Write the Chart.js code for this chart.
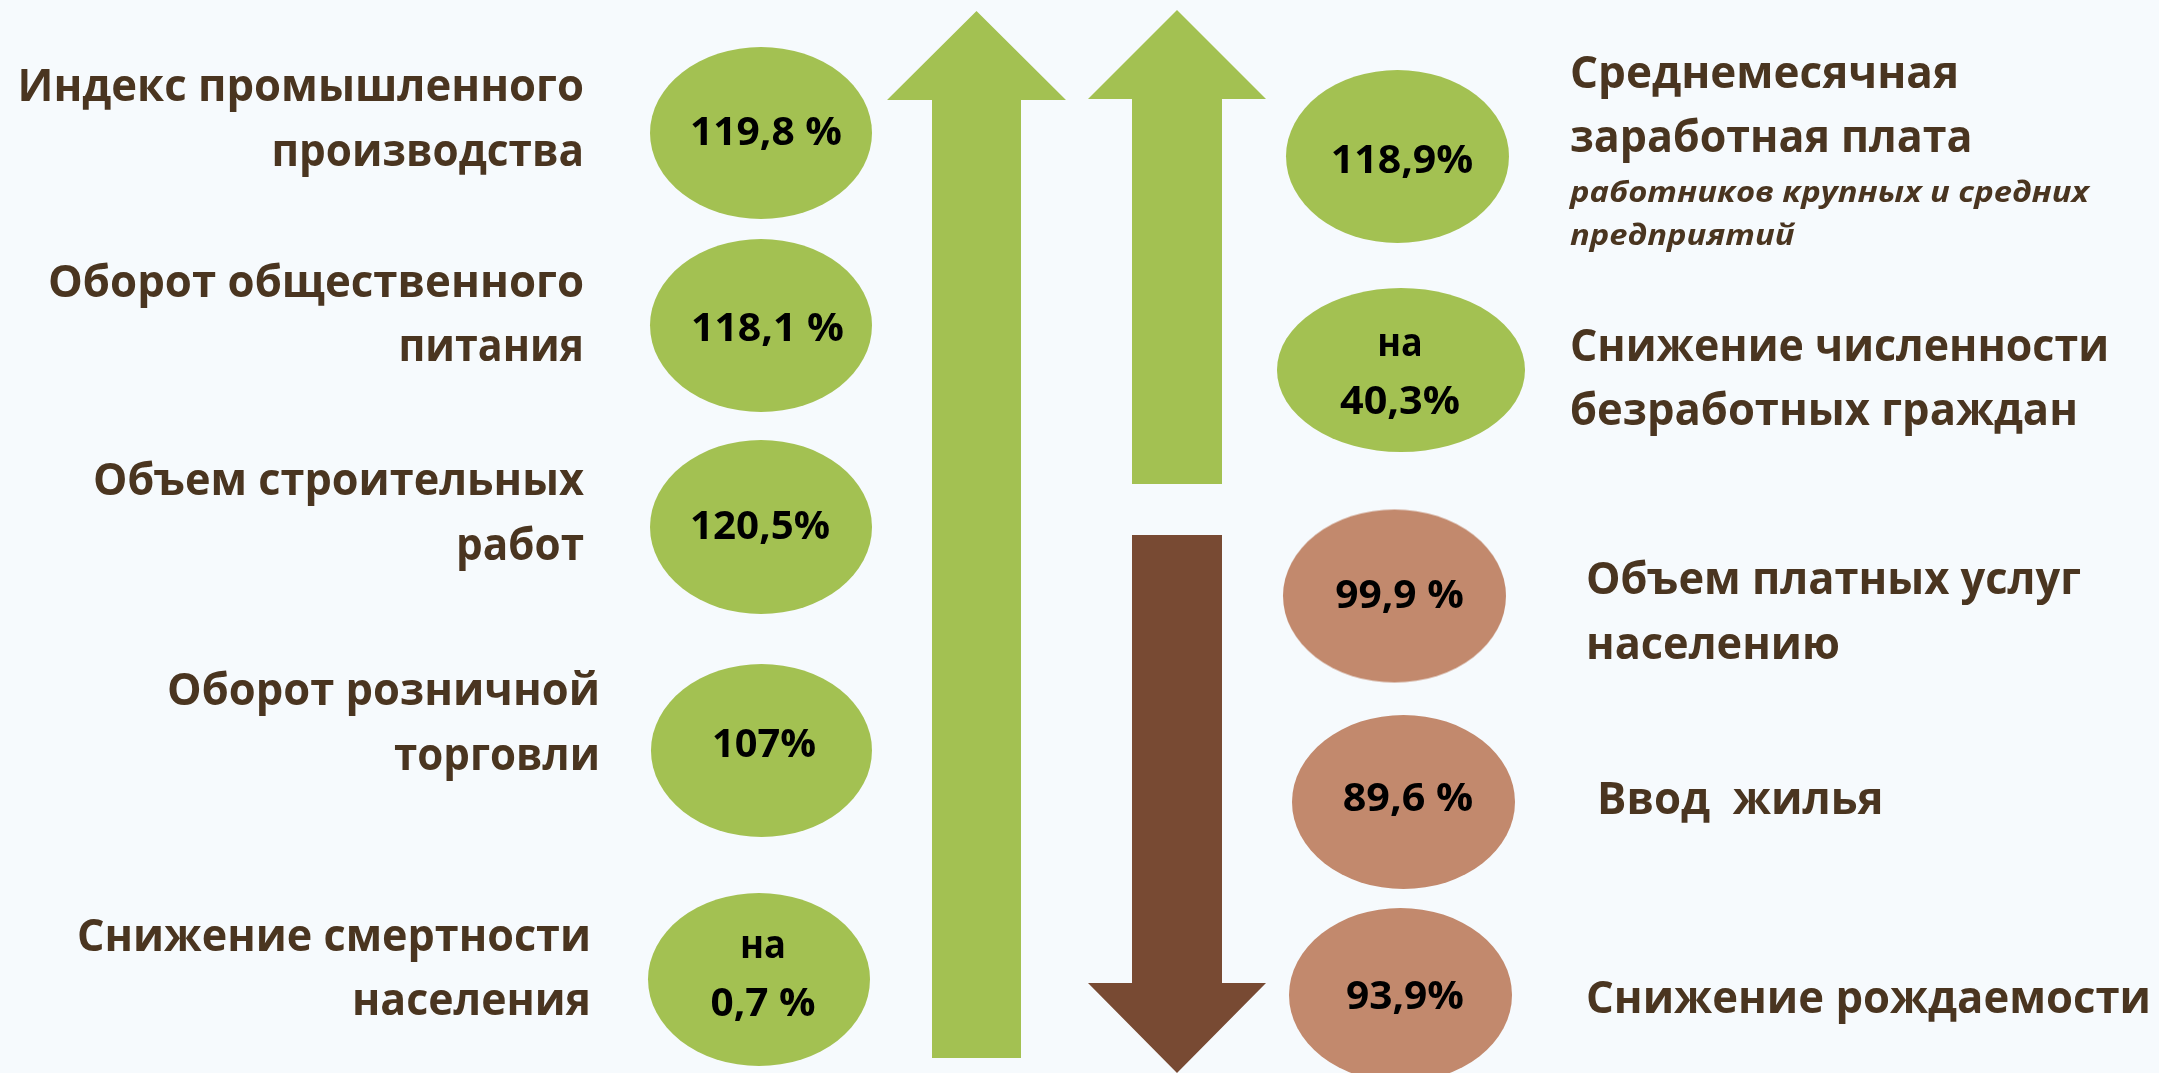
<!DOCTYPE html>
<html>
<head>
<meta charset="utf-8">
<script src="https://cdn.jsdelivr.net/npm/chart.js@4/dist/chart.umd.min.js"></script>
<style>
  html, body { margin: 0; padding: 0; background: #F6FAFD; overflow: hidden; }
  #wrap { width: 2159px; height: 1073px; }
</style>
</head>
<body>
<div id="wrap"><canvas id="c" width="2159" height="1073"></canvas></div>
<script>
// ---------------- DATA ----------------
const leftLabels = [
  ["Индекс промышленного", "производства"],
  ["Оборот общественного", "питания"],
  ["Объем строительных", "работ"],
  ["Оборот розничной", "торговли"],
  ["Снижение смертности", "населения"]
];
const leftValues = [119.8, 118.1, 120.5, 107, 0.7];
const leftPrefix = ["", "", "", "", "на"];
const leftSuffix = [" %", " %", "%", "%", " %"];

const rightLabels = [
  ["Среднемесячная", "заработная плата"],
  ["Снижение численности", "безработных граждан"],
  ["Объем платных услуг", "населению"],
  ["Ввод  жилья"],
  ["Снижение рождаемости"]
];
const rightNotes = [["работников крупных и средних", "предприятий"], [], [], [], []];
const rightValues = [118.9, 40.3, 99.9, 89.6, 93.9];
const rightPrefix = ["", "на", "", "", ""];
const rightSuffix = ["%", "%", " %", " %", "%"];
const rightTrend = ["up", "up", "down", "down", "down"];

// ---------------- LAYOUT (positions, sizes, styles) ----------------
const W = 2159, H = 1073;
const COLORS = { green: "#A3C152", brown: "#784A33", brownLight: "#C2896D", text: "#4A3520", num: "#000000" };
const leftEll = [
  {cx: 761, cy: 133, rx: 111, ry: 86},
  {cx: 761, cy: 325.5, rx: 111, ry: 86.5},
  {cx: 761, cy: 527, rx: 111, ry: 87},
  {cx: 761.5, cy: 750.5, rx: 110.5, ry: 86.5},
  {cx: 759, cy: 979.5, rx: 111, ry: 86.5}
];
const rightEll = [
  {cx: 1397.5, cy: 156.5, rx: 111.5, ry: 86.5},
  {cx: 1401, cy: 370, rx: 124, ry: 82},
  {cx: 1394.5, cy: 596, rx: 111.5, ry: 86.5},
  {cx: 1403.5, cy: 802, rx: 111.5, ry: 87},
  {cx: 1400.5, cy: 995, rx: 111.5, ry: 87}
];
const leftNumPos = [
  {x: 766, y: [144.6], w: [152]}, {x: 767.5, y: [341], w: [153]}, {x: 760, y: [539], w: [140]},
  {x: 764, y: [757], w: [104]}, {x: 763, y: [958, 1015.6], w: [46, 105]}
];
const rightNumPos = [
  {x: 1402, y: [172.5], w: [142.5]}, {x: 1400, y: [356, 414], w: [45.5, 120]}, {x: 1399.5, y: [608], w: [128.5]},
  {x: 1408, y: [811], w: [130.5]}, {x: 1405, y: [1009], w: [118]}
];
const leftLabelPos = [
  {x: 584, y: 101, w: [566.5, 312.5]}, {x: 584, y: 296.5, w: [536, 185.5]}, {x: 584, y: 495, w: [491, 128]},
  {x: 600, y: 705, w: [433, 206]}, {x: 591, y: 950.5, w: [514, 239]}
];
const rightLabelPos = [
  {x: 1570, y: 87.5, w: [389, 402.5]}, {x: 1570, y: 360.7, w: [539, 508]}, {x: 1586, y: 594, w: [495, 254]},
  {x: 1597, y: 813.5, w: [286.5]}, {x: 1586, y: 1013, w: [565]}
];
const notePos = {x: 1570, y: 202, gap: 43, w: [519, 224.5]};
const LABEL_GAP = 64.5;
const arrows = [
  {cx: 976.5, shaftHalf: 44.5, headHalf: 89.5, tipY: 11, baseY: 100, endY: 1058, dir: "up", color: COLORS.green},
  {cx: 1177, shaftHalf: 45, headHalf: 89, tipY: 10, baseY: 99, endY: 484, dir: "up", color: COLORS.green},
  {cx: 1177, shaftHalf: 45, headHalf: 89, tipY: 1073, baseY: 983, endY: 535, dir: "down", color: COLORS.brown}
];
const FONT = "'Open Sans', 'Noto Sans', 'DejaVu Sans', sans-serif";
const LABEL_FONT = "bold 45px " + FONT;
const NUM_FONT = "bold 40px " + FONT;
const NOTE_FONT = "italic bold 29px " + FONT;

// ---------------- BUILD ----------------
function fmt(v) { return String(v).replace(".", ","); }
function ellipseCanvas(e, color) {
  const c = document.createElement("canvas");
  c.width = Math.round(e.rx * 2) + 2; c.height = Math.round(e.ry * 2) + 2;
  const g = c.getContext("2d");
  g.fillStyle = color;
  g.beginPath();
  g.ellipse(c.width / 2, c.height / 2, e.rx, e.ry, 0, 0, Math.PI * 2);
  g.fill();
  return c;
}
function arrowPoly(a) {
  return [
    {x: a.cx, y: a.tipY},
    {x: a.cx + a.headHalf, y: a.baseY},
    {x: a.cx + a.shaftHalf, y: a.baseY},
    {x: a.cx + a.shaftHalf, y: a.endY},
    {x: a.cx - a.shaftHalf, y: a.endY},
    {x: a.cx - a.shaftHalf, y: a.baseY},
    {x: a.cx - a.headHalf, y: a.baseY},
    {x: a.cx, y: a.tipY}
  ];
}

const arrowSets = arrows.map(a => ({
  type: "line",
  data: arrowPoly(a),
  fill: "shape",
  backgroundColor: a.color,
  borderColor: "rgba(0,0,0,0)",
  borderWidth: 0,
  pointRadius: 0,
  tension: 0,
  order: 2
}));

const leftPts = leftValues.map((v, i) => ({x: leftEll[i].cx, y: leftEll[i].cy, v}));
const rightPts = rightValues.map((v, i) => ({x: rightEll[i].cx, y: rightEll[i].cy, v}));
const ellSets = [
  {
    type: "scatter", data: leftPts,
    pointStyle: leftEll.map(e => ellipseCanvas(e, COLORS.green)),
    pointRadius: 10, order: 1
  },
  {
    type: "scatter", data: rightPts,
    pointStyle: rightEll.map((e, i) => ellipseCanvas(e, rightTrend[i] === "up" ? COLORS.green : COLORS.brownLight)),
    pointRadius: 10, order: 1
  }
];

function drawFit(ctx, text, x, y, targetW, align) {
  const m = ctx.measureText(text).width;
  let sx = targetW && m ? targetW / m : 1;
  sx = Math.max(0.75, Math.min(1.25, sx));
  ctx.save();
  ctx.translate(x, y);
  ctx.scale(sx, 1);
  ctx.textAlign = align;
  ctx.fillText(text, 0, 0);
  ctx.restore();
}

const textPlugin = {
  id: "texts",
  afterDatasetsDraw(chart) {
    const ctx = chart.ctx;
    const xs = chart.scales.x, ys = chart.scales.y;
    const px = v => xs.getPixelForValue(v), py = v => ys.getPixelForValue(v);
    const sw = w => Math.abs(xs.getPixelForValue(w) - xs.getPixelForValue(0));
    ctx.save();
    ctx.textBaseline = "alphabetic";

    ctx.fillStyle = COLORS.text;
    ctx.font = LABEL_FONT;
    leftLabels.forEach((lines, i) => {
      const p = leftLabelPos[i];
      lines.forEach((t, j) => drawFit(ctx, t, px(p.x), py(p.y + j * LABEL_GAP), sw(p.w[j]), "right"));
    });
    rightLabels.forEach((lines, i) => {
      const p = rightLabelPos[i];
      lines.forEach((t, j) => drawFit(ctx, t, px(p.x), py(p.y + j * LABEL_GAP), sw(p.w[j]), "left"));
    });
    ctx.font = NOTE_FONT;
    rightNotes.forEach((lines) => {
      lines.forEach((t, j) => drawFit(ctx, t, px(notePos.x), py(notePos.y + j * notePos.gap), sw(notePos.w[j]), "left"));
    });

    ctx.fillStyle = COLORS.num;
    ctx.font = NUM_FONT;
    const drawNum = (v, pre, suf, pos) => {
      const lines = pre ? [pre, fmt(v) + suf] : [fmt(v) + suf];
      lines.forEach((t, j) => drawFit(ctx, t, px(pos.x), py(pos.y[j]), sw(pos.w[j]), "center"));
    };
    leftValues.forEach((v, i) => drawNum(v, leftPrefix[i], leftSuffix[i], leftNumPos[i]));
    rightValues.forEach((v, i) => drawNum(v, rightPrefix[i], rightSuffix[i], rightNumPos[i]));
    ctx.restore();
  }
};

new Chart(document.getElementById("c"), {
  type: "scatter",
  data: { datasets: [...arrowSets, ...ellSets] },
  options: {
    responsive: false,
    devicePixelRatio: 1,
    animation: false,
    events: [],
    layout: { padding: 0, autoPadding: false },
    scales: {
      x: { type: "linear", min: 0, max: W, display: false },
      y: { type: "linear", min: 0, max: H, reverse: true, display: false }
    },
    plugins: { legend: { display: false }, tooltip: { enabled: false } }
  },
  plugins: [textPlugin]
});
</script>
</body>
</html>
